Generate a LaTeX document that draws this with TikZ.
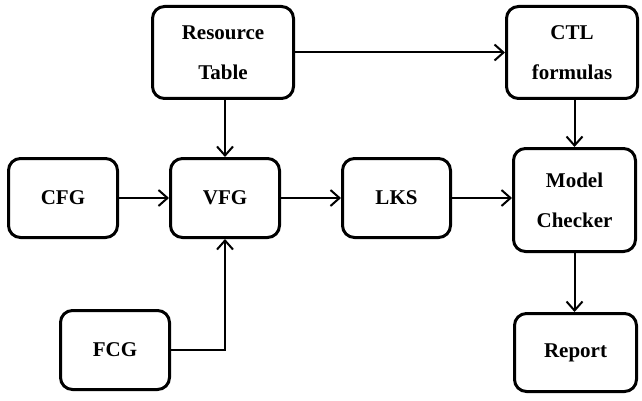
\documentclass[tikz,border=0pt]{standalone}
\usepackage{fontspec}
\setmainfont{Liberation Serif}
\usetikzlibrary{arrows.meta}
\tikzset{
  block/.style={draw, line width=3pt, rounded corners=12pt, align=center,
    font=\fontsize{21}{40}\selectfont\bfseries, inner sep=0pt},
  flow/.style={line width=2pt, -{Straight Barb[length=9pt,width=16pt,line width=2pt]}}
}
\begin{document}
\begin{tikzpicture}[x=1pt,y=-1pt]
  \useasboundingbox (0,0) rectangle (642,401);
  \node[block, minimum width=141pt, minimum height=92pt] (res) at (223,52.5) {Resource\\Table};
  \node[block, minimum width=131pt, minimum height=92pt] (ctl) at (572,52.5) {CTL\\formulas};
  \node[block, minimum width=109pt, minimum height=79pt] (cfg) at (63,198) {CFG};
  \node[block, minimum width=109pt, minimum height=79pt] (vfg) at (225,198) {VFG};
  \node[block, minimum width=108pt, minimum height=79pt] (lks) at (396.5,198) {LKS};
  \node[block, minimum width=122pt, minimum height=103pt] (mc) at (574.5,200) {Model\\Checker};
  \node[block, minimum width=109pt, minimum height=79pt] (fcg) at (115,350) {FCG};
  \node[block, minimum width=122pt, minimum height=78pt] (rep) at (575.5,352.5) {Report};

  \draw[flow] (res.east) -- (ctl.west);
  \draw[flow] (res.south -| vfg.north) -- (vfg.north);
  \draw[flow] (ctl.south -| mc.north) -- (mc.north);
  \draw[flow] (cfg.east) -- (vfg.west);
  \draw[flow] (vfg.east) -- (vfg.east -| lks.west);
  \draw[flow] (lks.east) -- (mc.west |- lks.east);
  \draw[flow] (mc.south) -- (mc.south |- rep.north);
  \draw[flow] (fcg.east) -| (vfg.south);
\end{tikzpicture}
\end{document}
